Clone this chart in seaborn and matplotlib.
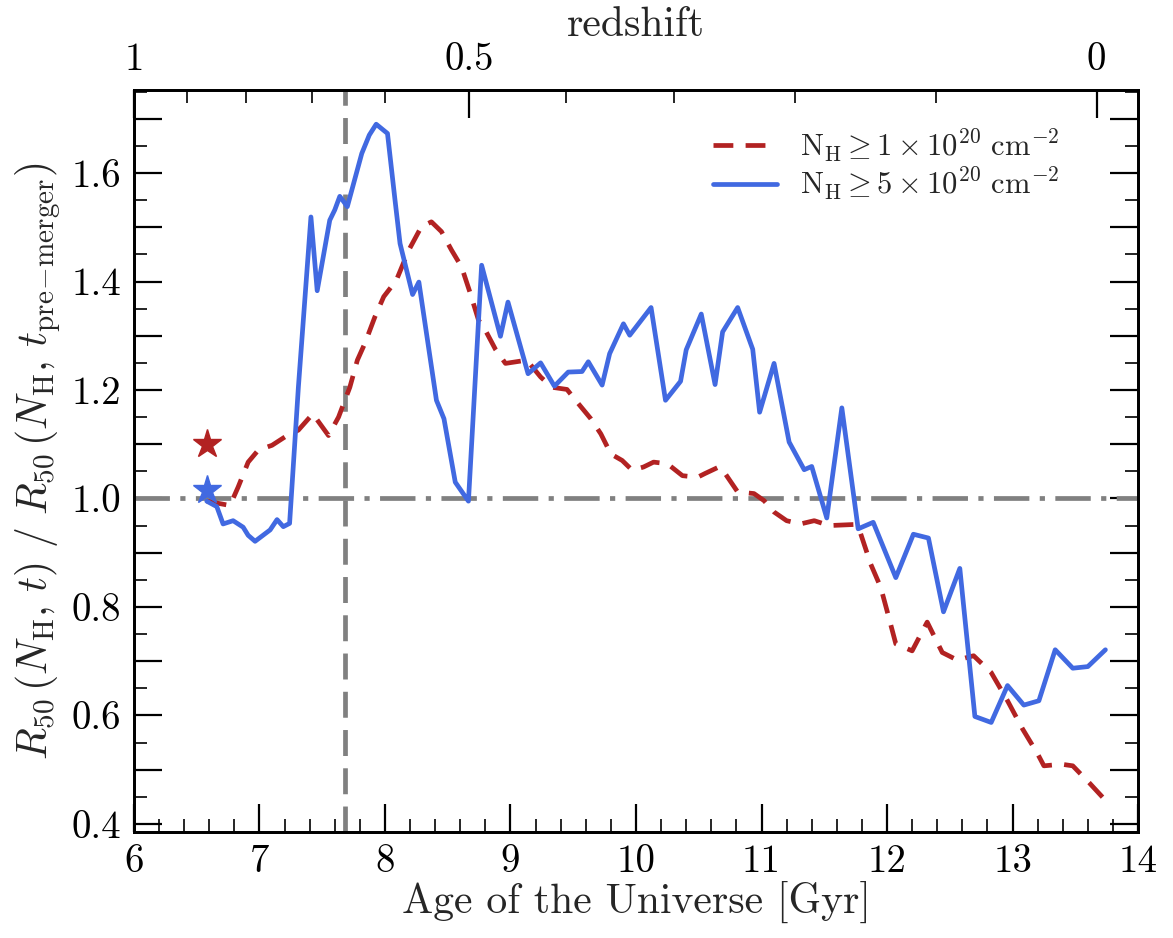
import numpy as np
import pandas as pd
import matplotlib
matplotlib.use("Agg")
import matplotlib.pyplot as plt
from matplotlib.ticker import MultipleLocator, FixedLocator, FuncFormatter
import seaborn as sns

# ---- data -------------------------------------------------------------
# R50 ratio for the column-density threshold N_H >= 5e20 cm^-2
t_high = [6.58, 6.66, 6.71, 6.79, 6.87, 6.91, 6.965, 7.085, 7.14, 7.19, 7.24,
          7.31, 7.41, 7.46, 7.56, 7.60, 7.64, 7.70, 7.815, 7.875, 7.93, 8.02,
          8.08, 8.12, 8.22, 8.27, 8.41, 8.47, 8.56, 8.665, 8.77, 8.92, 8.98,
          9.14, 9.24, 9.35, 9.46, 9.57, 9.62, 9.73, 9.79, 9.90, 9.95, 10.12,
          10.235, 10.355, 10.40, 10.52, 10.63, 10.69, 10.81, 10.93, 10.985,
          11.10, 11.22, 11.34, 11.40, 11.52, 11.64, 11.77, 11.89, 12.07, 12.21,
          12.33, 12.45, 12.58, 12.70, 12.83, 12.96, 13.09, 13.21, 13.34, 13.48,
          13.60, 13.74]
r_high = [0.995, 0.985, 0.953, 0.959, 0.947, 0.932, 0.921, 0.942, 0.961, 0.948,
          0.954, 1.205, 1.519, 1.383, 1.513, 1.532, 1.557, 1.538, 1.636, 1.670,
          1.690, 1.673, 1.550, 1.470, 1.376, 1.399, 1.181, 1.147, 1.030, 0.995,
          1.430, 1.299, 1.362, 1.230, 1.250, 1.207, 1.233, 1.234, 1.252, 1.209,
          1.267, 1.322, 1.301, 1.352, 1.181, 1.216, 1.274, 1.340, 1.210, 1.307,
          1.352, 1.275, 1.159, 1.249, 1.104, 1.053, 1.059, 0.964, 1.167, 0.944,
          0.956, 0.854, 0.934, 0.927, 0.791, 0.871, 0.598, 0.587, 0.655, 0.619,
          0.627, 0.721, 0.687, 0.690, 0.721]

# R50 ratio for the column-density threshold N_H >= 1e20 cm^-2
t_low = [6.58, 6.765, 6.83, 6.91, 6.99, 7.10, 7.22, 7.31, 7.425, 7.55, 7.63,
         7.72, 7.78, 7.84, 7.92, 7.99, 8.09, 8.19, 8.29, 8.37, 8.45, 8.53,
         8.61, 8.68, 8.745, 8.80, 8.88, 8.96, 9.13, 9.24, 9.33, 9.45, 9.54,
         9.64, 9.72, 9.80, 9.89, 9.97, 10.06, 10.14, 10.25, 10.37, 10.49,
         10.55, 10.66, 10.71, 10.81, 10.94, 11.02, 11.10, 11.20, 11.31, 11.42,
         11.54, 11.74, 11.79, 11.87, 11.95, 12.00, 12.07, 12.20, 12.32, 12.44,
         12.56, 12.69, 12.83, 12.96, 13.08, 13.20, 13.25, 13.39, 13.48, 13.61,
         13.73]
r_low = [0.995, 0.987, 1.021, 1.067, 1.089, 1.098, 1.116, 1.126, 1.156, 1.116,
         1.150, 1.205, 1.255, 1.286, 1.335, 1.372, 1.402, 1.458, 1.501, 1.510,
         1.492, 1.458, 1.427, 1.378, 1.329, 1.310, 1.275, 1.249, 1.255, 1.224,
         1.205, 1.201, 1.175, 1.147, 1.119, 1.082, 1.070, 1.052, 1.058, 1.067,
         1.064, 1.042, 1.039, 1.046, 1.058, 1.046, 1.012, 1.009, 0.996, 0.975,
         0.959, 0.953, 0.959, 0.950, 0.952, 0.935, 0.879, 0.836, 0.793, 0.732,
         0.719, 0.772, 0.716, 0.702, 0.710, 0.679, 0.627, 0.575, 0.529, 0.507,
         0.510, 0.507, 0.476, 0.446]

# pre-merger reference values (stars)
t_star = [6.58, 6.58]
r_star = [1.101, 1.015]

t_merger = 7.68          # time of the merger
ratio_ref = 1.0          # unity reference level

legend_labels = [r"$\rm N_H \geq 1 \times 10^{20}\ cm^{-2}$",
                 r"$\rm N_H \geq 5 \times 10^{20}\ cm^{-2}$"]

# redshift axis: labelled redshifts and the ages (Gyr) at which they sit
z_major = ["1", "0.5", "0"]
age_z_major = [6.0, 8.67, 13.67]
age_z_minor = [6.42, 6.89, 7.42, 8.0, 9.44, 10.30, 11.27, 12.39]

red = "#B22222"
blue = "#4169E1"
grey = "#808080"

# ---- style ------------------------------------------------------------
sns.set_theme(style="ticks")
plt.rcParams.update({
    "font.family": "serif",
    "font.serif": ["cmr10", "DejaVu Serif"],
    "mathtext.fontset": "cm",
    "axes.unicode_minus": False,
    "axes.formatter.use_mathtext": True,
    "axes.linewidth": 2.0,
    "xtick.direction": "in",
    "ytick.direction": "in",
    "xtick.major.size": 20, "xtick.minor.size": 9.5,
    "ytick.major.size": 20, "ytick.minor.size": 9.5,
    "xtick.major.width": 1.6, "xtick.minor.width": 1.2,
    "ytick.major.width": 1.6, "ytick.minor.width": 1.2,
    "xtick.color": "black", "ytick.color": "black",
    "axes.edgecolor": "black",
})

fig = plt.figure(figsize=(11.73, 9.38), dpi=100)
ax = fig.add_axes([0.1142, 0.1130, 0.8560, 0.7910])

df_low = pd.DataFrame({"t": t_low, "r": r_low})
df_high = pd.DataFrame({"t": t_high, "r": r_high})

sns.lineplot(data=df_low, x="t", y="r", ax=ax, color=red, linewidth=3.4,
             linestyle=(0, (4.2, 2.6)), label=legend_labels[0], sort=False)
sns.lineplot(data=df_high, x="t", y="r", ax=ax, color=blue, linewidth=3.4,
             label=legend_labels[1], sort=False)

ax.plot(t_star[0], r_star[0], marker="*", color=red, ms=21, ls="none", zorder=5)
ax.plot(t_star[1], r_star[1], marker="*", color=blue, ms=21, ls="none", zorder=5)

ax.axvline(t_merger, color=grey, lw=3.4, ls=(0, (5.5, 2.6)), zorder=1)
ax.axhline(ratio_ref, color=grey, lw=3.4, ls=(0, (7.5, 2.2, 1.1, 2.2)), zorder=1)

ax.set_xlim(6, 14)
ax.set_ylim(0.385, 1.753)

ax.xaxis.set_major_locator(MultipleLocator(1))
ax.xaxis.set_minor_locator(MultipleLocator(0.2))
ax.yaxis.set_major_locator(MultipleLocator(0.1))
ax.yaxis.set_minor_locator(MultipleLocator(0.05))


def every_other(v, pos):
    k = int(round(v * 10))
    return f"{v:.1f}" if k % 2 == 0 else ""


ax.yaxis.set_major_formatter(FuncFormatter(every_other))
ax.xaxis.set_major_formatter(FuncFormatter(lambda v, p: f"{v:.0f}"))
ax.tick_params(axis="both", which="both", top=False, right=True,
               labelsize=28, pad=9)

ax.set_xlabel("Age of the Universe [Gyr]", fontsize=30, labelpad=0)
ax.set_ylabel(r"$R_{50}\,(N_{\rm H},\,t)\ /\ R_{50}\,(N_{\rm H},\,t_{\rm pre\!-\!merger})$",
              fontsize=30, labelpad=6)

# redshift axis on top
axt = ax.twiny()
axt.set_xlim(ax.get_xlim())
axt.xaxis.set_major_locator(FixedLocator(age_z_major))
axt.xaxis.set_minor_locator(FixedLocator(age_z_minor))
axt.set_xticklabels(z_major)
axt.tick_params(axis="x", which="both", direction="in", labelsize=28, pad=9)
axt.set_xlabel("redshift", fontsize=30, labelpad=4)

leg = ax.legend(loc="upper right", frameon=False, fontsize=22,
                handlelength=2.1, handletextpad=0.75, labelspacing=0.05,
                borderpad=0, borderaxespad=0,
                bbox_to_anchor=(0.922, 0.95))

fig.savefig("out.png", dpi=100)
